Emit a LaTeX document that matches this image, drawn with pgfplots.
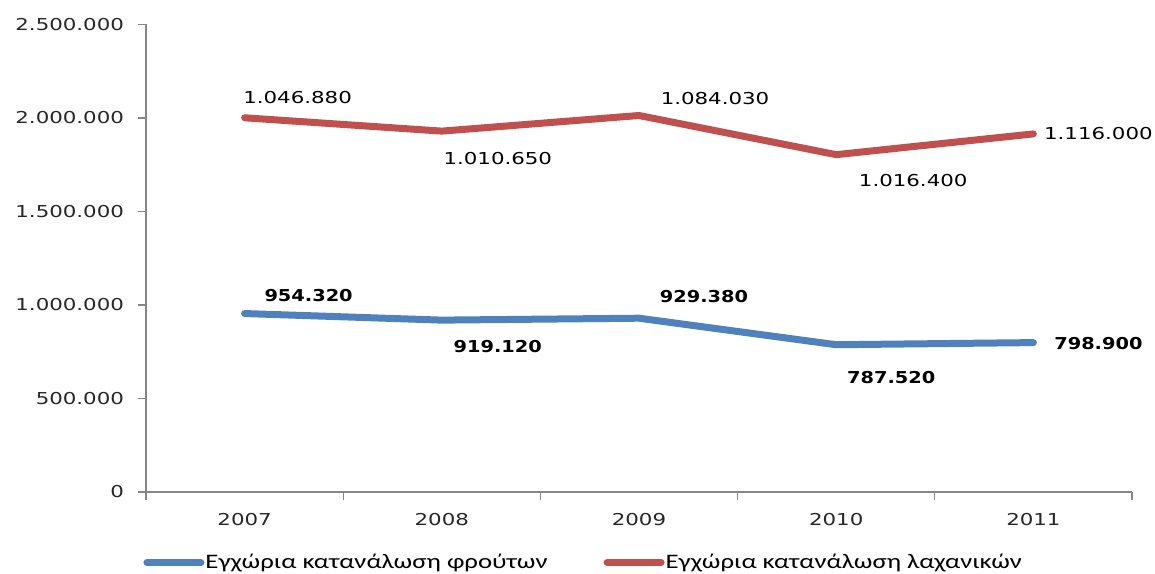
\documentclass[border=0pt]{standalone}
\usepackage{fontspec}
\setmainfont[FakeStretch=1.3]{DejaVu Sans}
\newfontfamily\legfont[FakeStretch=1.3]{Carlito}
\newfontfamily\blab[FakeStretch=1.18]{DejaVu Sans Bold}
\usepackage{pgfplots}
\pgfplotsset{compat=1.18}
\usepackage{pgfplotstable}
\definecolor{exblue}{HTML}{4F81BD}
\definecolor{exred}{HTML}{C0504D}
\definecolor{axgray}{HTML}{868686}

% fruit consumption (bottom series)
\pgfplotstableread{
x val dx dy
0 954320 32 9
1 919120 28 -13
2 929380 32.5 11
3 787520 27.5 -16.5
4 798900 32.5 -0.5
}\fruit
% vegetable consumption (stacked on top)
\pgfplotstableread{
x val dx dy
0 1046880 26.5 10
1 1010650 28 -13.5
2 1084030 38 8.5
3 1016400 38.5 -13
4 1116000 32.5 0
}\veg

\begin{document}
\begin{tikzpicture}
\begin{axis}[
  scale only axis,
  width=493pt, height=233.75pt,
  xmin=-0.5, xmax=4.5, ymin=0, ymax=2500000,
  axis x line*=bottom, axis y line*=left,
  axis line style={axgray, line width=0.6pt},
  xtick={0,1,2,3,4},
  xticklabels={2007,2008,2009,2010,2011},
  minor xtick={-0.5,0.5,1.5,2.5,3.5,4.5},
  major x tick style={draw=none},
  minor x tick style={axgray, line width=0.6pt},
  minor tick length=4pt,
  ytick={0,500000,1000000,1500000,2000000,2500000},
  y tick style={axgray, line width=0.6pt},
  major tick length=4pt,
  tick align=outside,
  scaled y ticks=false,
  /pgf/number format/.cd, 1000 sep={.}, assume math mode=true, fixed, precision=0,
  /pgfplots/.cd,
  tick label style={font=\fontsize{8.2}{10}\selectfont, text=black!85},
  yticklabel style={xshift=-3.5pt},
  xticklabel style={yshift=-3pt},
  stack plots=y,
  clip=false,
  nodes near coords,
  point meta=explicit,
  visualization depends on={\thisrow{dx} \as \dx},
  visualization depends on={\thisrow{dy} \as \dy},
  nodes near coords style={anchor=center, xshift=\dx pt, yshift=\dy pt, text=black},
  legend style={draw=none, at={(-0.003,-0.151)}, anchor=west,
    font=\legfont\fontsize{10.3}{12}\selectfont, inner sep=0pt,
    nodes={inner xsep=0.5pt},
    /tikz/every odd column/.append style={column sep=0pt},
    /tikz/every even column/.append style={column sep=27.5pt}},
  legend columns=2,
  legend cell align=left,
  legend image code/.code={\draw[#1, line cap=round, line width=3.5pt] (0pt,0pt) -- (27pt,0pt);},
]
\addplot[exblue, line width=3.5pt, line cap=round, line join=round,
  nodes near coords style={font=\blab\fontsize{8.2}{10}\selectfont}]
  table[x=x, y=val, meta=val] {\fruit};
\addlegendentry{Εγχώρια κατανάλωση φρούτων}
\addplot[exred, line width=3.5pt, line cap=round, line join=round,
  nodes near coords style={font=\fontsize{8.2}{10}\selectfont}]
  table[x=x, y=val, meta=val] {\veg};
\addlegendentry{Εγχώρια κατανάλωση λαχανικών}
\end{axis}
\pgfresetboundingbox
\useasboundingbox (-73pt,-40.5pt) rectangle (504.5pt,246pt);
\end{tikzpicture}
\end{document}
